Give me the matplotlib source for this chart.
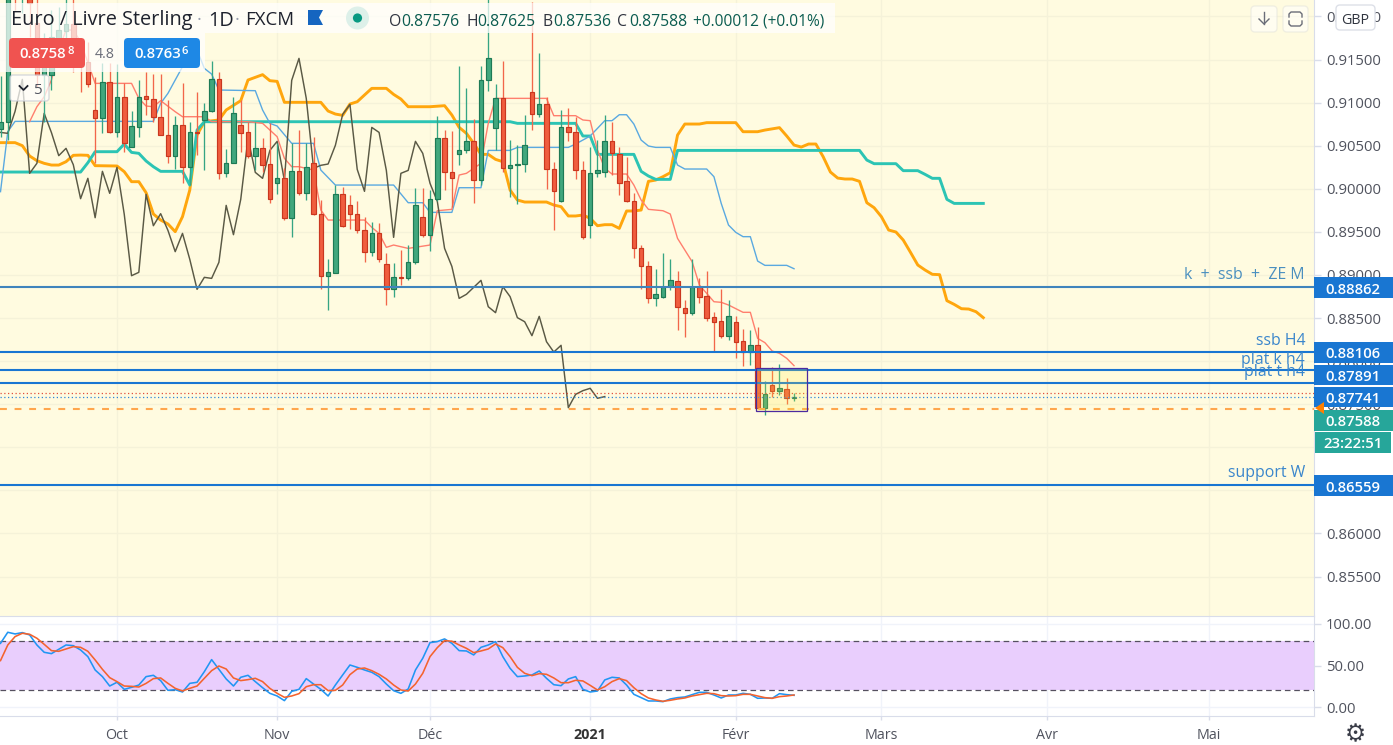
import matplotlib
matplotlib.use("Agg")
import matplotlib.pyplot as plt
from matplotlib.patches import Rectangle, FancyBboxPatch, Polygon, Circle

plt.rcParams['font.family'] = ['Open Sans', 'DejaVu Sans']

# ---------- candles (one per trading day) ----------
opens = [.90689,.90770,.9240,.9226,.9238,.91919,.91320,.91320,.91745,.91834,.91912,.91706,.91467,.90914,.90825,.91235,.90662,.91061,.90488,.90720,.91072,.91037,.90836,.90620,.90384,.90736,.90248,.90654,.90794,.90898,.91269,.90179,.90295,.90736,.90654,.90384,.90469,.90283,.90070,.90121,.89664,.90202,.89947,.90295,.89703,.88991,.89026,.89935,.89807,.89711,.89517,.89270,.89482,.89123,.88833,.88972,.88960,.89146,.89668,.89467,.89877,.90585,.90190,.90407,.90445,.90550,.90097,.91258,.90701,.91049,.90237,.90272,.90283,.91119,.90863,.90979,.90225,.89861,.90712,.90654,.90213,.89575,.90179,.90190,.90550,.90407,.90086,.89854,.89308,.89099,.88728,.88740,.88871,.88933,.88612,.88562,.88864,.88755,.88508,.88461,.88295,.88450,.88229,.88105,.88183,.87459,.87719,.87657,.87672,.87576]
closes = [.90770,.9225,.9228,.9238,.92159,.91320,.91610,.91765,.91842,.91912,.91706,.91467,.91211,.90825,.91235,.90662,.91061,.90527,.90728,.91068,.91037,.90836,.90627,.90384,.90736,.90248,
          .90654,.90643,.90898,.91269,.90179,.90295,.90875,.90651,.90384,.90469,.90279,.89885,.90121,.89664,.90202,.89947,.90248,.89703,.88991,.89030,.89935,.89571,.89711,.89517,.89270,.89482,.89181,.88833,.88972,.88960,.89146,.89807,.89467,.89877,.90585,.90190,.90121,.90445,.90550,.90097,.91258,.91513,.91049,.90237,.90272,.90287,.90504,.90863,.90979,.90225,.89970,.90712,.90654,.90213,.89436,.90179,.90213,.90550,.90411,.90063,.89854,.89308,.89099,.88728,.88775,.88856,.88937,.88631,.88562,.88864,.88748,.88504,.88457,.88295,.88519,.88225,.88105,.88183,.87459,.87614,.87657,.87684,.87568,.87588]
highs = [.91308,.9240,.9250,.9250,.9245,.9225,.91803,.92074,.92113,.9225,.9225,.91726,.91706,.91300,.91455,.91455,.91447,.91231,.90902,.91262,.91358,.91331,.91331,.91030,.90848,.91223,.90778,.91126,.90991,.91482,.91358,.90461,.91068,.91030,.90778,.90778,.90585,.90759,.90527,.90237,.90527,.90681,.90534,.90604,.89869,.89181,.90043,.90024,.89927,.89854,.89676,.89618,.89606,.89250,.89134,.89289,.89343,.90005,.90005,.89985,.90844,.90681,.90674,.91424,.91165,.90805,.91424,.9225,.91215,.91482,.90565,.90507,.90856,.92171,.91571,.91068,.90306,.90914,.90933,.90836,.90318,.90480,.90565,.90856,.90778,.90488,.90372,.89947,.89347,.89161,.89069,.89250,.89185,.89045,.88709,.89181,.88960,.89045,.88570,.88833,.88709,.88527,.88372,.88361,.88399,.87769,.87927,.87966,.87800,.87625]
lows = [.90596,.9056,.92074,.92035,.91764,.91184,.90778,.91146,.91416,.91745,.91358,.91126,.91177,.90295,.90643,.90643,.90604,.90430,.90480,.90604,.90856,.90778,.90623,.90295,.90225,.90063,.90043,.90391,.90217,.90894,.90109,.90140,.90295,.90430,.90353,.90217,.90198,.89838,.89935,.89637,.89444,.89927,.89869,.89695,.88833,.88593,.89018,.89560,.89537,.89482,.89154,.89219,.89154,.88651,.88740,.88883,.88941,.89127,.89444,.89281,.89861,.89985,.89792,.90279,.90418,.89830,.90043,.91138,.90449,.90198,.89908,.89819,.90198,.90681,.90836,.90001,.89521,.89850,.90558,.90117,.89420,.89432,.90140,.90140,.90159,.89927,.89850,.89200,.88833,.88678,.88643,.88728,.88825,.88361,.88276,.88535,.88678,.88465,.88109,.88264,.88245,.88032,.87943,.87954,.87459,.87374,.87587,.87606,.87502,.87536]

# ---------- ichimoku lines: bar index and price at each vertex ----------
span_a_x = [0,2,3,4,5,6,7,8,9,10,11,12,13,16,17,18,19,20,21,22,23,24,25,26,27,28,30,31,33,34,35,36,37,38,39,44,45,46,47,48,49,50,51,53,54,55,56,59,61,62,63,64,65,66,67,68,69,70,71,72,75,76,77,78,79,80,81,82,83,84,85,86,87,88,89,90,91,92,93,94,96,97,101,102,104,105,107,108,109,110,111,112,113,114,115,116,117,118,119,120,121,122,123,124,125,126,127,128,129,130,131,132,133,134,135]
span_a_y = [.90535,.90535,.90500,.90380,.90326,.90295,.90275,.90275,.90314,.90388,.90391,.90388,.90268,.90264,.90198,.90082,.90082,.89954,.89707,.89637,.89591,.89502,.89676,.89985,.90623,.90778,.90798,.90914,.91022,.91262,.91293,.91324,.91254,.91246,.91003,.91003,.90902,.90867,.90852,.90983,.91010,.91088,.91165,.91165,.91095,.91041,.90952,.90952,.90964,.90856,.90712,.90643,.90527,.90399,.90399,.90341,.90314,.89985,.89869,.89846,.89846,.89811,.89792,.89684,.89684,.89695,.89657,.89571,.89583,.89583,.89540,.89742,.89742,.89753,.90086,.90101,.90140,.90186,.90623,.90751,.90751,.90767,.90767,.90662,.90662,.90681,.90709,.90612,.90507,.90484,.90519,.90519,.90372,.90194,.90124,.90113,.90113,.90086,.89838,.89780,.89676,.89521,.89498,.89405,.89262,.89115,.89057,.89007,.89003,.88701,.88658,.88608,.88604,.88573,.88504]
span_b_x = [0,11,12,13,16,17,18,19,20,21,22,25,26,27,28,70,71,79,80,81,82,87,88,89,90,92,93,118,119,120,123,124,126,127,128,129,130,131,135]
span_b_y = [.90194,.90194,.90302,.90430,.90430,.90519,.90422,.90411,.90322,.90256,.90202,.90202,.90043,.90681,.90778,.90778,.90759,.90759,.90612,.90612,.90399,.90399,.90202,.90148,.90109,.90109,.90445,.90445,.90333,.90291,.90291,.90210,.90210,.90167,.90121,.90121,.89877,.89830,.89830]
kijun_x = [0,1,2,21,22,23,24,25,26,27,28,29,30,35,36,37,38,40,43,44,46,54,56,58,59,62,63,66,67,70,71,78,79,81,83,84,85,86,87,88,89,90,92,93,94,97,98,99,100,101,102,103,104,105,108,109]
kijun_y = [.89966,.90662,.90782,.90782,.90991,.91107,.91262,.91416,.91610,.91610,.91397,.91331,.91146,.91138,.90914,.90759,.90728,.90527,.90527,.90217,.90043,.90043,.89838,.89838,.89726,.89726,.90012,.90012,.90445,.90445,.90480,.90480,.90519,.90612,.90790,.90790,.90859,.90859,.90751,.90565,.90496,.90480,.90480,.90275,.90229,.90229,.90140,.89830,.89579,.89494,.89444,.89444,.89161,.89111,.89111,.89072]
tenkan_x = [4,5,6,7,8,9,10,11,13,18,19,20,21,22,24,25,28,29,34,36,38,39,40,41,43,44,45,50,51,52,53,54,56,59,60,62,63,64,65,66,67,68,75,76,79,80,81,82,83,84,86,87,88,89,91,92,93,94,95,96,97,98,99,100,102,103,104,105,106,107,108,109]
tenkan_y = [.90778,.90952,.91068,.91262,.91610,.91842,.91842,.91706,.91223,.91223,.91049,.90960,.90952,.91022,.90894,.90836,.90836,.90778,.90778,.90759,.90604,.90353,.90256,.90256,.90217,.89753,.89637,.89637,.89552,.89482,.89320,.89347,.89308,.89347,.89745,.89761,.90159,.90179,.90237,.90295,.90759,.91049,.91049,.90848,.90848,.90798,.90790,.90449,.90237,.90171,.90171,.90043,.89869,.89761,.89745,.89707,.89424,.89289,.89154,.88883,.88786,.88689,.88682,.88651,.88566,.88566,.88264,.88214,.88117,.88090,.88032,.87947]
chikou = [.90654,.90643,.90898,.91269,.90179,.90295,.90875,.90651,.90384,.90469,.90279,.89885,.90121,.89664,.90202,.89947,.90248,.89703,.88991,.89030,.89935,.89571,.89711,.89517,.89270,.89482,.89181,.88833,.88972,.88960,.89146,.89807,.89467,.89877,.90585,.90190,.90121,.90445,.90550,.90097,.91258,.91513,.91049,.90237,.90272,.90287,.90504,.90863,.90979,.90225,.89970,.90712,.90654,.90213,.89436,.90179,.90213,.90550,.90411,.90063,.89854,.89308,.89099,.88728,.88775,.88856,.88937,.88631,.88562,.88864,.88748,.88504,.88457,.88295,.88519,.88225,.88105,.88183,.87459,.87614,.87657,.87684,.87568,.87588]

# ---------- stochastic RSI pane ----------
stoch_k = [76.7,90,88,89.6,86.8,74.7,65.9,64.3,69.5,74.7,73.9,68.7,60.7,44.6,36.6,25.3,29.8,21.3,23.7,26.5,36.6,38.2,31.8,20.1,20.9,18.1,28.5,29.8,42.6,57.1,45.4,33.8,25.3,35.8,38.2,30.6,23.3,16.5,13.3,7.7,18.9,21.3,34.2,27.7,21.3,13.3,26.5,38.6,50.6,47.8,44.6,41.8,36.6,27.7,19.7,16.5,21.7,44.6,58.7,77.5,78.8,82,76.7,67.9,
           67.5,62.7,71.9,74.7,78.8,60.7,46.6,36.6,37.4,38.6,43.4,34.6,26.9,25.7,33.8,36.6,21.3,18.1,19.3,32.6,35.8,35,26.5,15.3,11.3,7.3,7.3,6.5,9.7,11.3,12.1,14.9,17.7,17.7,14.5,10.9,14.5,14.5,16.5,15.3,10.5,10.9,10.5,16.1,14.9,14.1]
stoch_d = [55.9,74.7,84.8,88.8,87.6,82.8,75.5,67.9,67.1,69.9,72.7,71.9,67.1,56.7,45.4,35.4,30.6,25.3,24.9,24.1,28.5,34.2,35,28.5,22.5,19.3,22.5,25.3,34.6,43.8,49.4,45.8,35,31.8,33,34.6,30.6,22.5,16.5,11.7,13.3,16.1,24.5,26.9,26.9,19.7,20.1,26.5,39,45.8,47,43.8,39.4,33.8,26.5,20.5,19.3,27.7,40.6,60.7,71.5,80,79.2,74.7,
           70.7,65.5,67.5,69.9,75.9,71.5,60.7,47.8,40.6,37.8,40.2,39.4,35,29.3,29.3,32.2,31.4,26.1,20.5,24.5,30.6,34.2,31.8,23.3,16.1,10.9,8.5,6.9,8.1,9.7,10.9,13.3,14.9,16.5,16.1,13.7,13.3,13.7,15.3,15.3,13.3,11.3,10.5,12.5,13.3,14.5]
stoch_ticks = [0, 50, 100]
stoch_bands = [20, 80]

# ---------- levels and labels ----------
level_teal = 0.88862
levels = [0.88106, 0.87891, 0.87741, 0.86559]
bid, ask = 0.87627, 0.87581
alert_level = 0.87444
box_bars = (103.8, 110.8)
box_prices = (0.87417, 0.87916)
notes = [("k  +  ssb  +  ZE M", 0.89000, '#4a8fbf'), ("ssb H4", 0.88238, '#3a86cc'),
         ("plat k h4", 0.88018, '#3a86cc'), ("plat t h4", 0.87878, '#3a86cc'),
         ("support W", 0.86698, '#3a86cc')]
month_pos = [16, 38, 59, 81, 101, 121, 143.8, 166]
month_lab = ['Oct', 'Nov', 'Déc', '2021', 'Févr', 'Mars', 'Avr', 'Mai']
price_ticks = [0.855,0.86,0.865,0.87,0.875,0.88,0.885,0.89,0.895,0.90,0.905,0.91,0.915,0.92]

W, H = 1393, 745
BAR_PX = 7.28
PX_PER_PRICE = 8617.0
FONT = 'Open Sans'

BG = '#FFFBE0'
GRID_Y = '#F5F2D9'
GRID_W = '#F0F3FA'
TXT = '#50535E'
AX_C = '#D9DDEA'

fig = plt.figure(figsize=(W/100, H/100), dpi=100, facecolor='white')

# main pane
ax = fig.add_axes([0, (H-616)/H, 1314/W, 616/H], facecolor=BG)
ax.set_xlim(-0.5/BAR_PX, (1314-0.5)/BAR_PX)
ax.set_ylim(0.915-(616-59.5)/PX_PER_PRICE, 0.915+59.5/PX_PER_PRICE)
ax.set_yticks(price_ticks)
ax.set_yticklabels([f'{v:.5f}' for v in price_ticks], fontsize=10.7, color=TXT, va='center_baseline')
ax.yaxis.tick_right()
ax.tick_params(axis='y', length=5, width=1, color=AX_C, pad=3.5)
ax.set_xticks(month_pos)
ax.tick_params(axis='x', length=0, labelbottom=False)
ax.grid(True, color=GRID_Y, lw=1.0, zorder=0)
for s in ['top', 'left', 'bottom']:
    ax.spines[s].set_visible(False)
ax.spines['right'].set_color(AX_C)
ax.set_axisbelow(True)

# ichimoku
ax.plot(span_a_x, span_a_y, color='#FFA60D', lw=2.1, zorder=2, solid_joinstyle='round')
ax.plot(span_b_x, span_b_y, color='#2CC4B4', lw=2.1, zorder=2, solid_joinstyle='round')
ax.plot(kijun_x, kijun_y, color='#5AA9E0', lw=1.0, zorder=2)
ax.plot(tenkan_x, tenkan_y, color='#FF7F6E', lw=1.0, zorder=2)
ax.plot(range(len(chikou)), chikou, color='#5A5945', lw=1.05, zorder=2)

# candles
for i, (o, h, l, c) in enumerate(zip(opens, highs, lows, closes)):
    up = c >= o
    wick = '#36A583' if up else '#F2664A'
    face = '#41A77D' if up else '#F05D3E'
    edge = '#1E7A55' if up else '#C9371F'
    ax.vlines(i, l, h, color=wick, lw=0.95, zorder=3)
    ax.add_patch(Rectangle((i-0.31, min(o, c)), 0.62, max(abs(c-o), 0.00001),
                           facecolor=face, edgecolor=edge, lw=0.85, zorder=4))

# levels
ax.axhline(level_teal, color='#3F84BC', lw=1.5, zorder=6)
for lv in levels:
    ax.axhline(lv, color='#1976D2', lw=1.5, zorder=6)
ax.axhline(bid, color='#E0503C', lw=0.9, ls=(0, (1, 2)), zorder=5)
ax.axhline(ask, color='#2E86D6', lw=0.9, ls=(0, (1, 2)), zorder=5)
ax.axhline(alert_level, color='#FFA64D', lw=1.5, ls=(0, (3.3, 3.7)), zorder=5)

# highlighted rectangle
ax.add_patch(Rectangle((box_bars[0], box_prices[0]), box_bars[1]-box_bars[0], box_prices[1]-box_prices[0],
                       facecolor='#FFEB3B', alpha=0.2, edgecolor='none', zorder=7))
ax.add_patch(Rectangle((box_bars[0], box_prices[0]), box_bars[1]-box_bars[0], box_prices[1]-box_prices[0],
                       facecolor='none', edgecolor='#4B2AA0', lw=0.9, zorder=7))

for txt, y, col in notes:
    ax.text((1305-0.5)/BAR_PX, y, txt, ha='right', va='center', fontsize=11.4, color=col, zorder=8)

# stochastic pane
ax2 = fig.add_axes([0, (H-716)/H, 1314/W, 100/H], facecolor='white')
ax2.set_xlim(ax.get_xlim())
ax2.set_ylim(-10.8, 109.6)
ax2.axhspan(stoch_bands[0], stoch_bands[1], color='#E9CEFD', lw=0, zorder=1)
for b in stoch_bands:
    ax2.axhline(b, color='#55505F', lw=0.9, ls=(0, (4.5, 3)), zorder=2)
ax2.plot(range(len(stoch_k)), stoch_k, color='#2196F3', lw=1.15, zorder=3)
ax2.plot(range(len(stoch_d)), stoch_d, color='#F4632E', lw=1.15, zorder=4)
ax2.set_yticks(stoch_ticks)
ax2.set_yticklabels([f'{v:.2f}' for v in stoch_ticks], fontsize=10.7, color=TXT, va='center_baseline')
ax2.yaxis.tick_right()
ax2.tick_params(axis='y', length=5, width=1, color=AX_C, pad=3.5)
ax2.set_xticks(month_pos)
ax2.set_xticklabels(month_lab, fontsize=10.3, color=TXT)
ax2.get_xticklabels()[3].set_fontweight('bold')
ax2.get_xticklabels()[3].set_color('#333333')
ax2.tick_params(axis='x', length=3, width=1, color=AX_C, pad=5.5)
ax2.grid(True, color=GRID_W, lw=1.0, zorder=0)
ax2.set_axisbelow(True)
ax2.spines['left'].set_visible(False)
for s in ['top', 'right', 'bottom']:
    ax2.spines[s].set_color(AX_C)

# chrome overlay, in screen pixels
ui = fig.add_axes([0, 0, 1, 1], facecolor='none')
ui.set_xlim(0, W)
ui.set_ylim(H, 0)
ui.axis('off')
def box(x0, y0, x1, y1, fc, alpha=1.0, ec='none', r=0, z=10, lw=1):
    if r:
        p = FancyBboxPatch((x0+r, y0+r), x1-x0-2*r, y1-y0-2*r, boxstyle=f'round,pad={r},rounding_size={r}',
                           fc=fc, ec=ec, alpha=alpha, lw=lw, zorder=z)
    else:
        p = Rectangle((x0, y0), x1-x0, y1-y0, fc=fc, ec=ec, alpha=alpha, lw=lw, zorder=z)
    ui.add_patch(p)
def t(x, y, s, size=10.3, color=TXT, ha='left', weight='normal', fam=FONT, z=12):
    ui.text(x, y, s, fontsize=size, color=color, ha=ha, va='center_baseline', fontweight=weight, family=fam, zorder=z)

box(0, 3, 835, 33, 'white', alpha=0.72)
box(0, 33, 205, 72, 'white', alpha=0.72)
t(11, 18, 'Euro / Livre Sterling', size=14.3, color='#1E222D')
t(197, 18, '·', size=13.2, color='#9AA0AE')
t(208, 18, '1D', size=14.3, color='#1E222D')
t(235, 18, '·', size=13.2, color='#9AA0AE')
t(245, 18, 'FXCM', size=13.4, color='#1E222D')
ui.add_patch(Polygon([(308, 10), (323, 10), (319, 17.5), (323, 25), (308, 25)], fc='#1565C0', zorder=12))
ui.add_patch(Circle((357.5, 18), 11.5, fc='#DDF0E9', ec='none', zorder=11))
ui.add_patch(Circle((357.5, 18), 4.6, fc='#089981', ec='none', zorder=12))

VAL = '#0B5C50'
for lx, let, vx, val in [(389, 'O', 401, '0.87576'), (466, 'H', 477, '0.87625'),
                         (542.5, 'B', 553, '0.87536'), (617.5, 'C', 629, '0.87588')]:
    t(lx, 19.5, let, size=11.3, color='#30343F')
    t(vx, 19.5, val, size=11.3, color=VAL)
t(693, 19.5, '+0.00012 (+0.01%)', size=11.2, color=VAL)

box(9, 38, 85, 68, '#F05350', r=4)
t(19, 52.5, '0.8758', size=10.8, color='white', weight='semibold')
t(67, 50.5, '8', size=8.2, color='white', weight='semibold')
t(95, 53, '4.8', size=10.3, color='#6A6D78')
box(124, 38, 200, 68, '#1E88E5', r=4)
t(134, 52.5, '0.8763', size=10.8, color='white', weight='semibold')
t(182, 50.5, '6', size=8.2, color='white', weight='semibold')
box(10, 75, 49, 101, 'white', alpha=0.72, ec='#C9CCD6', r=3)
ui.plot([19.5, 23.5, 27.5], [86, 90, 86], color='#1E222D', lw=1.3, zorder=12)
t(33, 88, '5', size=11, color='#50535E')

# right-hand price tags
tags = [(277, 298, '0.88862', '#1976D2', 1314), (342, 363, '0.88106', '#1976D2', 1314),
        (365, 385, '0.87891', '#1976D2', 1314), (387, 407, '0.87741', '#1976D2', 1314),
        (410, 431, '0.87588', '#26A69A', 1314), (432, 453, '23:22:51', '#26A69A', 1315),
        (475, 496, '0.86559', '#1976D2', 1314)]
for y0, y1, s, c, x0 in tags:
    box(x0, y0, 1393 if x0 == 1314 else 1391, y1, c)
    t(1353, (y0+y1)/2+0.5, s, size=10.7, color='white', ha='center', weight='semibold')
ui.add_patch(Polygon([(1315, 408), (1324, 402), (1324, 414)], fc='#FF7F00', zorder=13))

# top right buttons
box(1251, 6, 1277, 32, 'white', alpha=0.55, ec='#E4E4DC', r=4)
box(1283, 6, 1308, 32, 'white', alpha=0.55, ec='#E4E4DC', r=4)
ui.plot([1264, 1264], [12, 24], color='#6A6D78', lw=1, zorder=12)
ui.plot([1259, 1264, 1269], [19, 24, 19], color='#6A6D78', lw=1, zorder=12)
ui.plot([1289, 1289, 1291, 1300, 1302, 1302], [17, 14, 12, 12, 14, 17], color='#6A6D78', lw=1, zorder=12)
ui.plot([1289, 1289, 1291, 1300, 1302, 1302], [21, 24, 26, 26, 24, 21], color='#6A6D78', lw=1, zorder=12)
box(1336, 5, 1375, 30, 'white', ec='#DDE0E8', r=4)
t(1355.5, 18, 'GBP', size=10.3, color='#30343F', ha='center')

# settings gear
ui.text(1355, 734, '⚙', fontsize=17, color='#3A3D48', ha='center', va='center', family='DejaVu Sans', zorder=12)

fig.savefig('out.png', dpi=100, facecolor='white')
